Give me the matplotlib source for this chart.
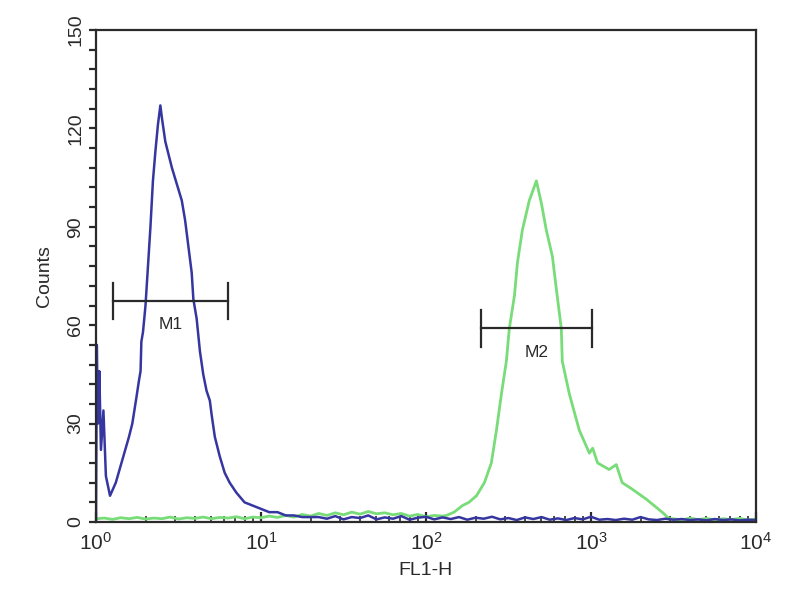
import matplotlib
matplotlib.use("Agg")
import matplotlib.pyplot as plt
import numpy as np
from matplotlib.ticker import MultipleLocator, LogLocator, NullFormatter

plt.rcParams['font.family'] = ['Liberation Sans', 'DejaVu Sans']
plt.rcParams['mathtext.default'] = 'regular'

# channel positions are given in log10 units (decades)
blue_log = [0.0, 0.005, 0.012, 0.02, 0.03, 0.045, 0.06, 0.085, 0.12, 0.16,
            0.2, 0.22, 0.245, 0.26, 0.27, 0.275, 0.285, 0.3, 0.315, 0.33,
            0.345, 0.36, 0.375, 0.39, 0.4, 0.42, 0.435, 0.46, 0.49, 0.52,
            0.54, 0.56, 0.58, 0.59, 0.61, 0.63, 0.65, 0.67, 0.69, 0.7,
            0.72, 0.75, 0.78, 0.81, 0.85, 0.9, 0.95, 1.0, 1.05, 1.1,
            1.15, 1.2, 1.25, 1.3,
            1.35, 1.4, 1.45, 1.5, 1.55, 1.6, 1.65, 1.7, 1.75, 1.8,
            1.85, 1.9, 1.95, 2.0, 2.05, 2.1, 2.15, 2.2, 2.25, 2.3,
            2.35, 2.4, 2.45, 2.5, 2.55, 2.6, 2.65, 2.7, 2.75, 2.8,
            2.85, 2.9, 2.95, 3.0, 3.05, 3.1, 3.15, 3.2, 3.25, 3.3,
            3.35, 3.4, 3.45, 3.5, 3.55, 3.6, 3.65, 3.7, 3.75, 3.8,
            3.85, 3.9, 3.95, 4.0]
blue_cnt = [0, 54, 30, 46, 22, 34, 14, 8, 12, 19,
            26, 30, 38, 43, 46, 55, 58, 66, 78, 90,
            104, 113, 121, 127, 123, 116, 113, 108, 103, 98,
            92, 84, 76, 68, 62, 52, 45, 40, 37, 33,
            26, 20, 15, 12, 9, 6, 5, 4, 3, 3,
            2, 2, 1.5, 1.5,
            1.5, 1, 1.8, 0.8, 1.5, 1.2, 2, 0.8, 1.4, 1,
            1.8, 0.7, 1.3, 1.6, 0.8, 1.4, 0.9, 1.5, 0.7, 1.3,
            1, 1.6, 0.8, 1.2, 0.6, 1.4, 0.9, 1.5, 0.7, 1.1,
            0.6, 1.2, 0.8, 1.6, 0.7, 0.9, 0.6, 1.0, 0.7, 1.5,
            0.8, 0.6, 1.0, 0.7, 0.9, 0.6, 0.8, 0.5, 0.9, 0.6,
            0.8, 0.5, 0.7, 0.6]

green_log = [0.0, 0.05, 0.1, 0.15, 0.2, 0.25, 0.3, 0.35, 0.4, 0.45,
             0.5, 0.55, 0.6, 0.65, 0.7, 0.75, 0.8, 0.85, 0.9, 0.95,
             1.0, 1.05, 1.1, 1.15, 1.2, 1.25, 1.3, 1.35, 1.4, 1.45,
             1.5, 1.55, 1.6, 1.65, 1.7, 1.75, 1.8, 1.85, 1.9, 1.95,
             2.0, 2.05, 2.1,
             2.124, 2.17, 2.221, 2.26, 2.306, 2.354, 2.396, 2.427, 2.457, 2.487,
             2.505, 2.536, 2.554, 2.584, 2.626, 2.669, 2.7, 2.729, 2.766, 2.79,
             2.82, 2.826, 2.869, 2.929, 2.99, 3.01, 3.04, 3.11, 3.153, 3.189,
             3.25, 3.334, 3.431, 3.474,
             3.5, 3.55, 3.6, 3.65, 3.7, 3.75, 3.8, 3.85, 3.9, 3.95, 4.0]
green_cnt = [1, 1.2, 0.8, 1.3, 1, 1.4, 0.9, 1.2, 1, 1.5,
             0.9, 1.3, 1.1, 1.5, 1, 1.4, 1.2, 1.6, 1, 1.5,
             1.3, 1.8, 1.4, 2, 1.5, 2.3, 1.8, 2.6, 2, 2.8,
             2.2, 3, 2.4, 3.2, 2.5, 2.8, 2.2, 2.6, 1.8, 2.3,
             1.6, 2, 1.8,
             2, 3, 5, 6, 8, 12, 18, 28, 39, 49,
             59, 69, 79, 89, 98, 104, 97, 89, 81, 71,
             59, 49, 39, 28, 21, 22.5, 18, 16, 17.5, 12,
             10, 7, 3, 1,
             1, 0.6, 1.2, 0.7, 1.1, 0.6, 1, 0.7, 1.1, 0.6, 0.9]

# gate markers: (label, left, right, level)
gates = [("M1", 1.27, 6.3, 67.5), ("M2", 214, 1020, 59)]

ink = "#2a2a2a"

fig = plt.figure(figsize=(8, 6), dpi=100)
ax = fig.add_axes([0.12, 0.13, 0.825, 0.82])

ax.plot(10 ** np.array(green_log), green_cnt, color="#78dc78", lw=2)
ax.plot(10 ** np.array(blue_log), blue_cnt, color="#3636a0", lw=1.8)

for name, lo, hi, lev in gates:
    ax.plot([lo, hi], [lev, lev], color=ink, lw=1.6)
    ax.plot([lo, lo], [lev - 5.5, lev + 5.5], color=ink, lw=1.6)
    ax.plot([hi, hi], [lev - 5.5, lev + 5.5], color=ink, lw=1.6)
    ax.text(np.sqrt(lo * hi), lev - 5, name, ha="center", va="top",
            fontsize=12.5, color=ink)

ax.set_xscale("log")
ax.set_xlim(1, 1e4)
ax.set_ylim(0, 150)

ax.yaxis.set_major_locator(MultipleLocator(30))
ax.yaxis.set_minor_locator(MultipleLocator(6))
ax.xaxis.set_major_locator(LogLocator(base=10))
ax.xaxis.set_minor_locator(LogLocator(base=10, subs=range(2, 10)))
ax.xaxis.set_minor_formatter(NullFormatter())
ax.set_xticks([1, 10, 100, 1000, 10000])
ax.set_xticklabels(["$10^{0}$", "$10^{1}$", "$10^{2}$", "$10^{3}$", "$10^{4}$"])

ax.tick_params(axis="y", which="both", direction="out", length=5, width=1.6,
               color=ink, labelsize=14, labelcolor=ink)
ax.tick_params(axis="x", which="major", direction="in", length=7, width=1.6,
               color=ink, labelsize=15, labelcolor=ink, pad=7)
ax.tick_params(axis="x", which="minor", direction="in", length=4, width=1.2,
               color=ink)
for lab in ax.get_yticklabels():
    lab.set_rotation(90)
    lab.set_va("center")

for sp in ax.spines.values():
    sp.set_color(ink)
    sp.set_linewidth(1.6)

ax.set_ylabel("Counts", fontsize=14, color=ink, labelpad=10)
ax.set_xlabel("FL1-H", fontsize=14, color=ink, labelpad=6)

fig.savefig("out.png", dpi=100)
